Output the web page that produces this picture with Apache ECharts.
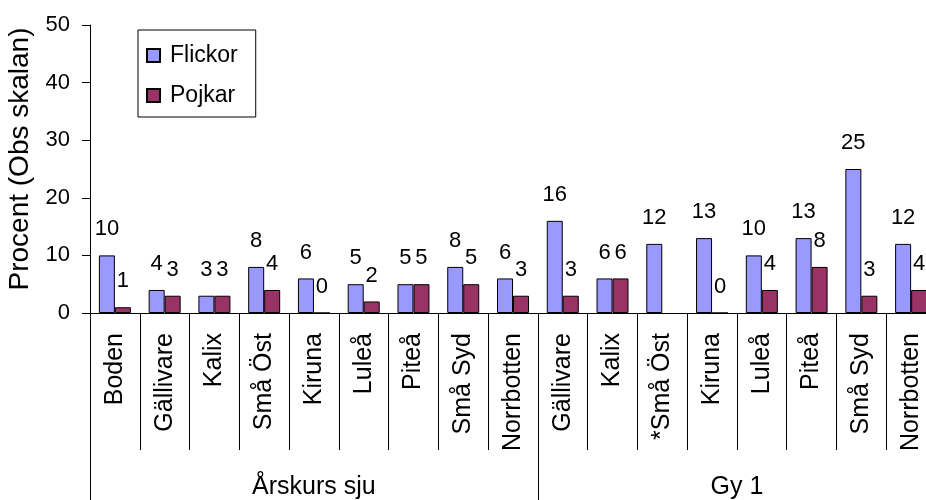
<!DOCTYPE html>
<html>
<head>
<meta charset="utf-8">
<script src="https://cdn.jsdelivr.net/npm/echarts@6/dist/echarts.min.js"></script>
<style>
  html, body { margin: 0; padding: 0; background: #fff; }
  #chart { width: 926px; height: 500px; }
</style>
</head>
<body>
<div id="chart"></div>
<script>
// kategorier och värden (procent)
var categories = ['Boden', 'Gällivare', 'Kalix', 'Små Öst', 'Kiruna', 'Luleå', 'Piteå', 'Små Syd', 'Norrbotten',
                  'Gällivare', 'Kalix', '*Små Öst', 'Kiruna', 'Luleå', 'Piteå', 'Små Syd', 'Norrbotten'];
var flickor = [10, 4, 3, 8, 6, 5, 5, 8, 6, 16, 6, 12, 13, 10, 13, 25, 12];
var pojkar = [1, 3, 3, 4, 0, 2, 5, 5, 3, 3, 6, null, 0, 4, 8, 3, 4];
var groups = ['Årskurs sju', 'Gy 1'];
var groupSizes = [9, 8];
var yTicks = [0, 10, 20, 30, 40, 50];

// gränser och mittpunkter för grupperna
var groupEdges = [0];
var groupCenters = [];
for (var i = 0; i < groupSizes.length; i++) {
    var start = groupEdges[groupEdges.length - 1];
    groupCenters.push(start + groupSizes[i] / 2);
    groupEdges.push(start + groupSizes[i]);
}

var font = 'Arial, "Liberation Sans", sans-serif';
var chart = echarts.init(document.getElementById('chart'));

function labelStyle() {
    return {
        show: true,
        position: 'top',
        distance: 15,
        color: '#000',
        fontSize: 22,
        fontFamily: font
    };
}

chart.setOption({
    animation: false,
    backgroundColor: '#fff',
    grid: { left: 90, right: -10, top: 25, bottom: 187, containLabel: false, outerBoundsMode: 'none' },
    legend: {
        orient: 'vertical',
        left: 138,
        top: 30,
        padding: [14, 18, 10, 8],
        itemGap: 17,
        itemWidth: 13,
        itemHeight: 13,
        icon: 'rect',
        borderColor: '#000',
        borderWidth: 1,
        backgroundColor: '#fff',
        textStyle: { color: '#000', fontSize: 23, fontFamily: font, padding: [0, 0, 0, 5] },
        data: ['Flickor', 'Pojkar']
    },
    xAxis: [
        {
            type: 'category',
            data: categories,
            axisLine: { show: true, lineStyle: { color: '#000', width: 1 } },
            axisTick: { show: true, interval: 0, length: 137, lineStyle: { color: '#000', width: 1 } },
            axisLabel: {
                interval: 0, rotate: 90, margin: 20,
                color: '#000', fontSize: 25, fontFamily: font
            }
        },
        {
            type: 'value',
            position: 'bottom',
            min: 0,
            max: categories.length,
            splitLine: { show: false },
            axisLine: { show: false },
            axisTick: { show: true, customValues: groupEdges, length: 187, lineStyle: { color: '#000' } },
            axisLabel: {
                customValues: groupCenters,
                margin: 162,
                color: '#000', fontSize: 25, fontFamily: font,
                formatter: function (v) {
                    var idx = groupCenters.indexOf(v);
                    return idx >= 0 ? groups[idx] : '';
                }
            }
        }
    ],
    yAxis: {
        type: 'value',
        min: yTicks[0],
        max: yTicks[yTicks.length - 1],
        interval: 10,
        name: 'Procent (Obs skalan)',
        nameLocation: 'middle',
        nameRotate: 90,
        nameGap: 54,
        nameTextStyle: { color: '#000', fontSize: 28, fontFamily: font, padding: [0, 0, 0, 20] },
        splitLine: { show: false },
        axisLine: { show: true, lineStyle: { color: '#000', width: 1 } },
        axisTick: { show: true, length: 8, lineStyle: { color: '#000' } },
        axisLabel: { margin: 20, color: '#000', fontSize: 22, fontFamily: font }
    },
    series: [
        {
            name: 'Flickor',
            type: 'bar',
            xAxisIndex: 0,
            data: flickor,
            barWidth: 16,
            barGap: '0%',
            itemStyle: { color: '#9999FF', borderColor: '#000', borderWidth: 1 },
            label: labelStyle()
        },
        {
            name: 'Pojkar',
            type: 'bar',
            xAxisIndex: 0,
            data: pojkar,
            barWidth: 16,
            barGap: '0%',
            itemStyle: { color: '#993366', borderColor: '#000', borderWidth: 1 },
            label: labelStyle()
        }
    ]
});
</script>
</body>
</html>
